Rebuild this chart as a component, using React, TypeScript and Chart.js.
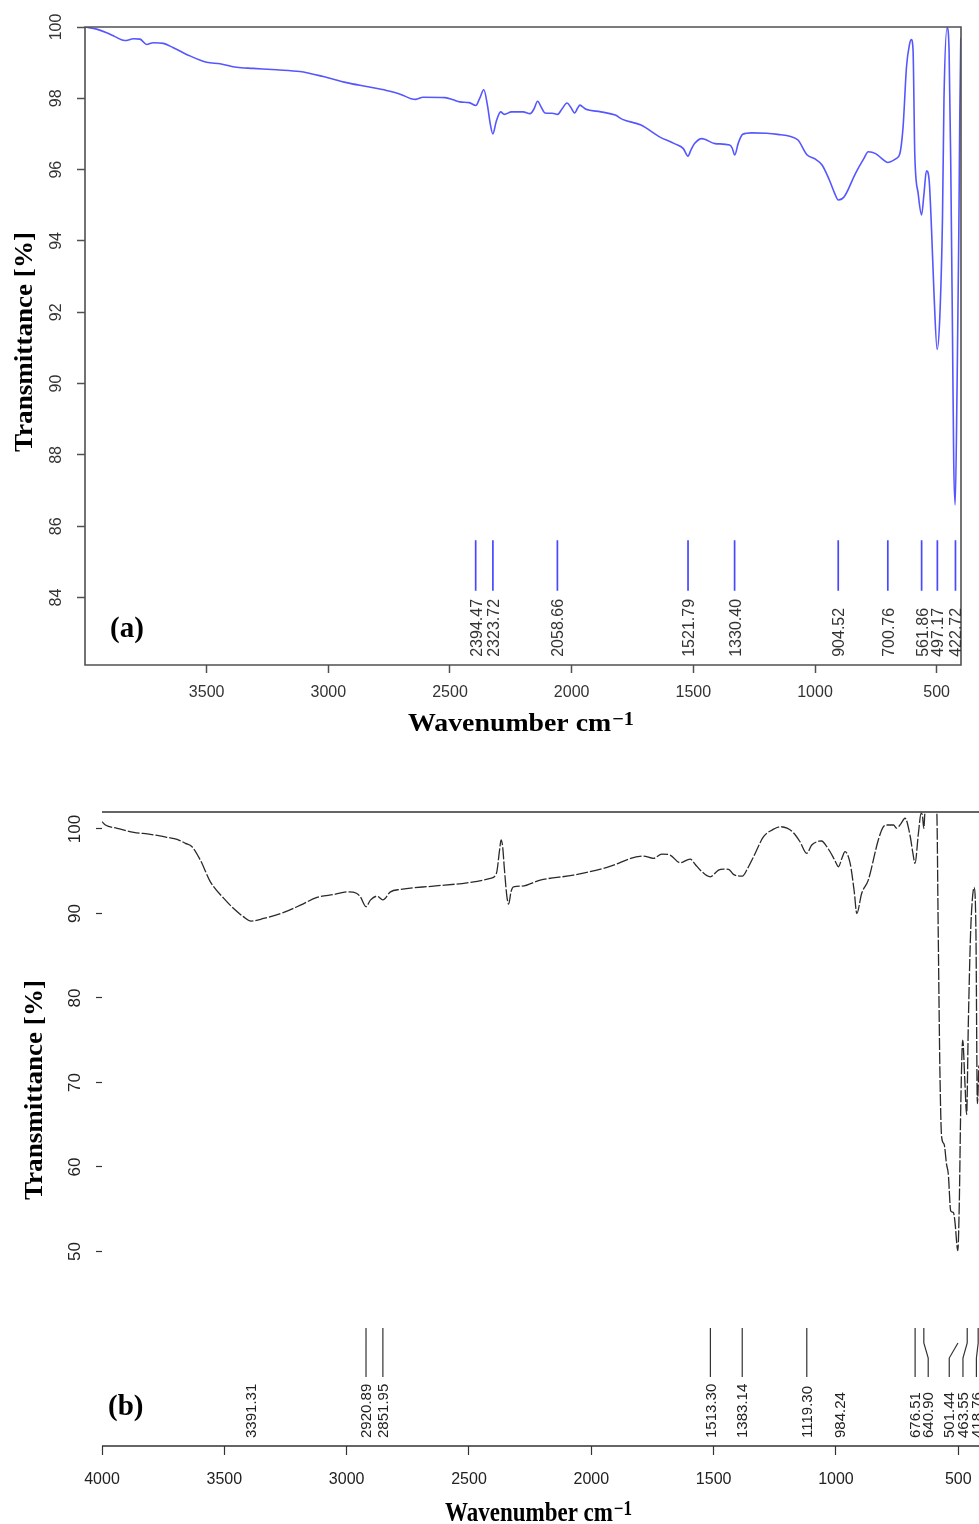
import React, { useEffect, useRef } from "react";
import { Chart, registerables } from "chart.js";

Chart.register(...registerables);

// ---------- Panel (a) ----------
const WN_A = [4000, 3952, 3911, 3877, 3836, 3800, 3774, 3747, 3719, 3678, 3637, 3569, 3500, 3445, 3377, 3309, 3212, 3117, 3021, 2925,
  2843, 2761, 2702, 2660, 2641, 2611, 2520, 2487, 2459, 2421, 2394, 2378, 2361, 2346, 2335, 2324, 2310, 2292, 2277, 2247,
  2200, 2171, 2155, 2140, 2125, 2110, 2080, 2058, 2040, 2019, 2004, 1988, 1976, 1966, 1955, 1943, 1880, 1821, 1791, 1715,
  1639, 1578, 1541, 1522, 1510, 1495, 1465, 1411, 1351, 1340, 1330, 1315, 1297, 1260, 1200, 1153, 1100, 1070, 1032, 1000,
  971, 941, 920, 904, 880, 834, 800, 781, 751, 720, 701, 667, 652, 638, 624, 612, 604, 597, 590, 576,
  562, 552, 542, 531, 521, 511, 498, 487, 476, 470, 457, 449, 442, 435, 430, 424, 416, 409, 405, 401, 400];
const T_A = [100.0, 99.94, 99.84, 99.73, 99.62, 99.67, 99.66, 99.51, 99.56, 99.54, 99.42, 99.19, 99.01, 98.97, 98.87, 98.84, 98.80, 98.75, 98.61, 98.44,
  98.33, 98.22, 98.11, 97.99, 97.97, 98.03, 98.02, 97.96, 97.90, 97.88, 97.80, 98.00, 98.24, 97.80, 97.30, 97.00, 97.35, 97.62, 97.55, 97.62,
  97.62, 97.57, 97.70, 97.92, 97.75, 97.59, 97.58, 97.55, 97.70, 97.87, 97.75, 97.59, 97.72, 97.81, 97.76, 97.70, 97.62, 97.53, 97.41, 97.25,
  96.92, 96.73, 96.59, 96.38, 96.55, 96.73, 96.87, 96.73, 96.69, 96.60, 96.41, 96.75, 96.99, 97.03, 97.02, 96.99, 96.93, 96.83, 96.41, 96.30,
  96.13, 95.71, 95.35, 95.15, 95.24, 95.89, 96.30, 96.50, 96.45, 96.28, 96.20, 96.31, 96.43, 97.20, 98.88, 99.50, 99.65, 99.35, 96.45, 95.33,
  94.73, 95.33, 95.97, 95.71, 94.31, 92.53, 90.96, 91.88, 94.68, 97.95, 99.98, 99.35, 96.08, 91.41, 87.86, 86.60, 90.00, 94.21, 97.48, 99.63, 99.70];
const PEAKS_A = [2394.47, 2323.72, 2058.66, 1521.79, 1330.40, 904.52, 700.76, 561.86, 497.17, 422.72];
const PEAK_LABELS_A = ["2394.47", "2323.72", "2058.66", "1521.79", "1330.40", "904.52", "700.76", "561.86", "497.17", "422.72"];
const X_TICKS_A = [3500, 3000, 2500, 2000, 1500, 1000, 500];
const Y_TICKS_A = [84, 86, 88, 90, 92, 94, 96, 98, 100];

// ---------- Panel (b) ----------
const WN_B = [4000, 3986, 3938, 3870, 3802, 3734, 3693, 3659, 3632, 3598, 3557, 3502, 3462, 3421, 3391, 3339, 3257, 3189, 3121, 3053,
  2992, 2960, 2944, 2921, 2903, 2876, 2852, 2821, 2781, 2645, 2508, 2413, 2388, 2375, 2369, 2362, 2356, 2345, 2338, 2328,
  2318, 2283, 2209, 2073, 1936, 1787, 1746, 1712, 1678, 1637, 1596, 1575, 1555, 1514, 1480, 1460, 1439, 1419, 1383, 1360,
  1337, 1296, 1260, 1228, 1200, 1174, 1147, 1120, 1099, 1070, 1058, 1040, 1024, 1005, 990, 975, 963, 942, 925, 915,
  895, 868, 827, 806, 792, 765, 752, 735, 718, 697, 686, 677, 663, 652, 647, 641, 636, 620, 600, 588,
  582, 575, 568, 558, 548, 541, 531, 520, 514, 502, 496, 490, 482, 473, 466, 459, 450, 443, 435, 428, 422, 416];
const T_B = [100.87, 100.47, 100.08, 99.61, 99.37, 99.02, 98.78, 98.30, 97.90, 96.32, 93.75, 91.78, 90.59, 89.60, 89.10, 89.41, 90.12, 90.98, 91.90, 92.25,
  92.56, 92.40, 91.97, 90.80, 91.58, 92.05, 91.60, 92.56, 92.85, 93.24, 93.63, 94.15, 94.74, 97.50, 98.70, 97.80, 95.53, 92.00, 91.10, 92.60,
  93.16, 93.24, 93.95, 94.54, 95.45, 96.80, 96.52, 97.03, 96.92, 96.00, 96.44, 95.80, 95.14, 94.34, 95.14, 95.25, 95.22, 94.63, 94.42, 95.40,
  96.71, 99.09, 99.90, 100.27, 100.10, 99.56, 98.49, 97.12, 98.10, 98.55, 98.58, 98.00, 97.31, 96.30, 95.53, 96.60, 97.31, 95.93, 92.50, 90.00,
  92.37, 93.95, 98.70, 100.27, 100.47, 100.47, 100.10, 100.60, 101.27, 99.20, 97.20, 95.93, 99.49, 101.86, 101.66, 100.08, 102.20, 104.00, 104.00, 102.20,
  87.60, 71.00, 63.50, 62.70, 60.30, 59.20, 54.80, 54.60, 53.60, 50.10, 55.60, 67.10, 75.00, 70.00, 66.20, 77.00, 87.50, 91.50, 93.10, 88.00, 67.50, 72.00];
const PEAKS_B = [3391.31, 2920.89, 2851.95, 1513.30, 1383.14, 1119.30, 984.24, 676.51, 640.90, 501.44, 463.55, 418.76];
const PEAK_LABELS_B = ["3391.31", "2920.89", "2851.95", "1513.30", "1383.14", "1119.30", "984.24", "676.51", "640.90", "501.44", "463.55", "418.76"];
// 0 = no marker line, 1 = full marker line, 2 = lower part only
const PEAK_LINE_B = [0, 1, 1, 1, 1, 1, 0, 1, 1, 2, 1, 1];
// wavenumber where each label sits (labels pushed apart where crowded)
const PEAK_LABEL_AT_B = [3391.31, 2920.89, 2851.95, 1513.30, 1383.14, 1119.30, 984.24, 676.51, 623, 537, 481, 426];
const X_TICKS_B = [4000, 3500, 3000, 2500, 2000, 1500, 1000, 500];
const Y_TICKS_B = [50, 60, 70, 80, 90, 100];

// marker levels (data units)
const MARK_A = [85.61, 84.19];
const LABEL_BASE_A = 82.34;
const MARK_B = [40.95, 39.17, 37.39, 35.14];
const LABEL_BASE_B = 27.93;

const SANS = '"Liberation Sans", Arial, sans-serif';
const SERIF = '"Liberation Serif", "Times New Roman", serif';

function drawWavTitle(ctx: CanvasRenderingContext2D, cx: number, cy: number, size: number, supSize: number, raise: number, targetW: number) {
  const main = "Wavenumber cm";
  const sup = "\u22121";
  ctx.save();
  ctx.font = `bold ${size}px ${SERIF}`;
  const w1 = ctx.measureText(main).width;
  ctx.font = `bold ${supSize}px ${SERIF}`;
  const w2 = ctx.measureText(sup).width;
  const gap = 1;
  const total = w1 + gap + w2;
  ctx.translate(cx, cy);
  ctx.scale(targetW / total, 1);
  ctx.fillStyle = "#000";
  ctx.textAlign = "left";
  ctx.textBaseline = "alphabetic";
  const base = 0.33 * size;
  ctx.font = `bold ${size}px ${SERIF}`;
  ctx.fillText(main, -total / 2, base);
  ctx.font = `bold ${supSize}px ${SERIF}`;
  ctx.fillText(sup, -total / 2 + w1 + gap, base - raise);
  ctx.restore();
}

function drawYTitle(ctx: CanvasRenderingContext2D, cx: number, cy: number, size: number, targetW: number) {
  const t = "Transmittance [%]";
  ctx.save();
  ctx.font = `bold ${size}px ${SERIF}`;
  const w = ctx.measureText(t).width;
  ctx.translate(cx, cy);
  ctx.rotate(-Math.PI / 2);
  ctx.scale(targetW / w, 1);
  ctx.fillStyle = "#000";
  ctx.textAlign = "center";
  ctx.textBaseline = "alphabetic";
  ctx.fillText(t, 0, 0.33 * size);
  ctx.restore();
}

type Decor = {
  id: string;
  frame: "box" | "topbottom";
  frameColor: string;
  frameWidth: number;
  yTicks: number[];
  yTickCx: number;
  yTickFont: string;
  xTicks: number[];
  xTickCy: number;
  xTickFont: string;
  tickColor: string;
  peakLabels: string[];
  peakAt: number[];
  peakBase: number;
  peakFont: string;
  peakColor: string;
  peakDx: number;
  letter: string;
  letterX: number;
  letterCy: number;
  letterSize: number;
  xTitle: [number, number, number, number, number, number];
  yTitle: [number, number, number, number];
};

function makeDecor(d: Decor) {
  return {
    id: d.id,
    afterDraw(chart: any) {
      const ctx: CanvasRenderingContext2D = chart.ctx;
      const ca = chart.chartArea;
      const xs = chart.scales.x;
      const ys = chart.scales.y;
      ctx.save();
      // frame
      ctx.strokeStyle = d.frameColor;
      ctx.lineWidth = d.frameWidth;
      ctx.beginPath();
      if (d.frame === "box") {
        ctx.rect(ca.left, ca.top, ca.right - ca.left, ca.bottom - ca.top);
      } else {
        ctx.moveTo(ca.left, ca.top);
        ctx.lineTo(ca.right, ca.top);
        ctx.moveTo(ca.left, ca.bottom);
        ctx.lineTo(ca.right, ca.bottom);
      }
      ctx.stroke();

      // y tick labels (rotated)
      ctx.fillStyle = d.tickColor;
      ctx.font = d.yTickFont;
      ctx.textAlign = "center";
      ctx.textBaseline = "middle";
      for (const v of d.yTicks) {
        const y = ys.getPixelForValue(v);
        ctx.save();
        ctx.translate(d.yTickCx, y);
        ctx.rotate(-Math.PI / 2);
        ctx.fillText(String(v), 0, 0);
        ctx.restore();
      }
      // x tick labels
      ctx.font = d.xTickFont;
      for (const v of d.xTicks) {
        ctx.fillText(String(v), xs.getPixelForValue(v), d.xTickCy);
      }
      // peak labels
      ctx.font = d.peakFont;
      ctx.fillStyle = d.peakColor;
      ctx.textAlign = "left";
      ctx.textBaseline = "middle";
      const by = ys.getPixelForValue(d.peakBase);
      d.peakLabels.forEach((t, i) => {
        ctx.save();
        ctx.translate(xs.getPixelForValue(d.peakAt[i]) + d.peakDx, by);
        ctx.rotate(-Math.PI / 2);
        ctx.fillText(t, 0, 0);
        ctx.restore();
      });
      // panel letter
      ctx.fillStyle = "#000";
      ctx.font = `bold ${d.letterSize}px ${SERIF}`;
      ctx.textAlign = "left";
      ctx.textBaseline = "alphabetic";
      ctx.fillText(d.letter, d.letterX, d.letterCy + 0.24 * d.letterSize);
      // titles
      const [tx, ty, ts, tss, tr, tw] = d.xTitle;
      drawWavTitle(ctx, tx, ty, ts, tss, tr, tw);
      const [yx, yy, yS, yw] = d.yTitle;
      drawYTitle(ctx, yx, yy, yS, yw);
      ctx.restore();
    },
  };
}

function setTicks(list: number[]) {
  return (scale: any) => {
    scale.ticks = list.map((v) => ({ value: v }));
  };
}

export default function App() {
  const refA = useRef<HTMLCanvasElement>(null);
  const refB = useRef<HTMLCanvasElement>(null);

  useEffect(() => {
    const marksA: any[] = [];
    PEAKS_A.forEach((p) => {
      marksA.push({ x: p, y: MARK_A[0] }, { x: p, y: MARK_A[1] }, { x: p, y: null });
    });
    const marksB: any[] = [];
    PEAKS_B.forEach((p, i) => {
      const kind = PEAK_LINE_B[i];
      if (!kind) return;
      const at = PEAK_LABEL_AT_B[i];
      if (kind === 1) marksB.push({ x: p, y: MARK_B[0] });
      marksB.push({ x: p, y: MARK_B[1] }, { x: at, y: MARK_B[2] }, { x: at, y: MARK_B[3] }, { x: at, y: null });
    });

    const decorA = makeDecor({
      id: "decorA",
      frame: "box",
      frameColor: "#505050",
      frameWidth: 1.6,
      yTicks: Y_TICKS_A,
      yTickCx: 57,
      yTickFont: `16px ${SANS}`,
      xTicks: X_TICKS_A,
      xTickCy: 692.5,
      xTickFont: `16px ${SANS}`,
      tickColor: "#333",
      peakLabels: PEAK_LABELS_A,
      peakAt: PEAKS_A,
      peakBase: LABEL_BASE_A,
      peakFont: `16px ${SANS}`,
      peakColor: "#333",
      peakDx: 1.5,
      letter: "(a)",
      letterX: 110,
      letterCy: 630.5,
      letterSize: 29,
      xTitle: [521, 722, 26, 19, 6, 226],
      yTitle: [23, 342, 26, 220],
    });

    const decorB = makeDecor({
      id: "decorB",
      frame: "topbottom",
      frameColor: "#333",
      frameWidth: 1.3,
      yTicks: Y_TICKS_B,
      yTickCx: 75,
      yTickFont: `17px ${SANS}`,
      xTicks: X_TICKS_B,
      xTickCy: 709.3,
      xTickFont: `16px ${SANS}`,
      tickColor: "#222",
      peakLabels: PEAK_LABELS_B,
      peakAt: PEAK_LABEL_AT_B,
      peakBase: LABEL_BASE_B,
      peakFont: `15px ${SANS}`,
      peakColor: "#222",
      peakDx: 1,
      letter: "(b)",
      letterX: 108,
      letterCy: 638.5,
      letterSize: 29,
      xTitle: [538.5, 742.5, 27, 20, 6, 187],
      yTitle: [34, 320, 25, 220],
    });

    const chartA = new Chart(refA.current as HTMLCanvasElement, {
      type: "line",
      data: {
        datasets: [
          {
            data: WN_A.map((x, i) => ({ x, y: T_A[i] })),
            borderColor: "#5656ff",
            borderWidth: 1.6,
            pointRadius: 0,
            cubicInterpolationMode: "monotone",
          } as any,
          {
            data: marksA,
            borderColor: "#4848ff",
            borderWidth: 1.7,
            pointRadius: 0,
            tension: 0,
            spanGaps: false,
          } as any,
        ],
      },
      options: {
        responsive: false,
        animation: false,
        devicePixelRatio: 1,
        events: [],
        layout: { padding: { left: 0, right: 18, top: 27, bottom: 0 } },
        plugins: { legend: { display: false }, tooltip: { enabled: false } },
        scales: {
          x: {
            type: "linear",
            reverse: true,
            min: 400,
            max: 4000,
            afterBuildTicks: setTicks(X_TICKS_A),
            afterFit: (s: any) => { s.height = 105; },
            ticks: { display: false },
            border: { display: false },
            grid: { drawOnChartArea: false, drawTicks: true, tickLength: 8, color: "#505050", tickWidth: 1.5 },
          },
          y: {
            type: "linear",
            min: 82.11,
            max: 100,
            afterBuildTicks: setTicks(Y_TICKS_A),
            afterFit: (s: any) => { s.width = 85; },
            ticks: { display: false },
            border: { display: false },
            grid: { drawOnChartArea: false, drawTicks: true, tickLength: 8, color: "#505050", tickWidth: 1.5 },
          },
        },
      } as any,
      plugins: [decorA],
    });

    const chartB = new Chart(refB.current as HTMLCanvasElement, {
      type: "line",
      data: {
        datasets: [
          {
            data: WN_B.map((x, i) => ({ x, y: T_B[i] })),
            borderColor: "#2a2a2a",
            borderWidth: 1.3,
            borderDash: [12, 2],
            pointRadius: 0,
            cubicInterpolationMode: "monotone",
            clip: 0,
          } as any,
          {
            data: marksB,
            borderColor: "#333",
            borderWidth: 1.2,
            pointRadius: 0,
            tension: 0,
            spanGaps: false,
          } as any,
        ],
      },
      options: {
        responsive: false,
        animation: false,
        devicePixelRatio: 1,
        events: [],
        layout: { padding: { left: 0, right: 0, top: 42, bottom: 0 } },
        plugins: { legend: { display: false }, tooltip: { enabled: false } },
        scales: {
          x: {
            type: "linear",
            reverse: true,
            min: 415.4,
            max: 4000,
            afterBuildTicks: setTicks(X_TICKS_B),
            afterFit: (s: any) => { s.height = 78; },
            ticks: { display: false },
            border: { display: false },
            grid: { drawOnChartArea: false, drawTicks: true, tickLength: 9, color: "#333", tickWidth: 1.2 },
          },
          y: {
            type: "linear",
            min: 26.98,
            max: 102.01,
            afterBuildTicks: setTicks(Y_TICKS_B),
            afterFit: (s: any) => { s.width = 102; },
            ticks: { display: false },
            border: { display: false },
            grid: { drawOnChartArea: false, drawTicks: true, tickLength: 6, color: "#333", tickWidth: 1.2 },
          },
        },
      } as any,
      plugins: [decorB],
    });

    return () => {
      chartA.destroy();
      chartB.destroy();
    };
  }, []);

  return (
    <div style={{ position: "absolute", left: 0, top: 0, width: 979, height: 1524, background: "#fff", overflow: "hidden" }}>
      <canvas ref={refA} width={979} height={770} style={{ position: "absolute", left: 0, top: 0, display: "block" }} />
      <canvas ref={refB} width={979} height={754} style={{ position: "absolute", left: 0, top: 770, display: "block" }} />
    </div>
  );
}
